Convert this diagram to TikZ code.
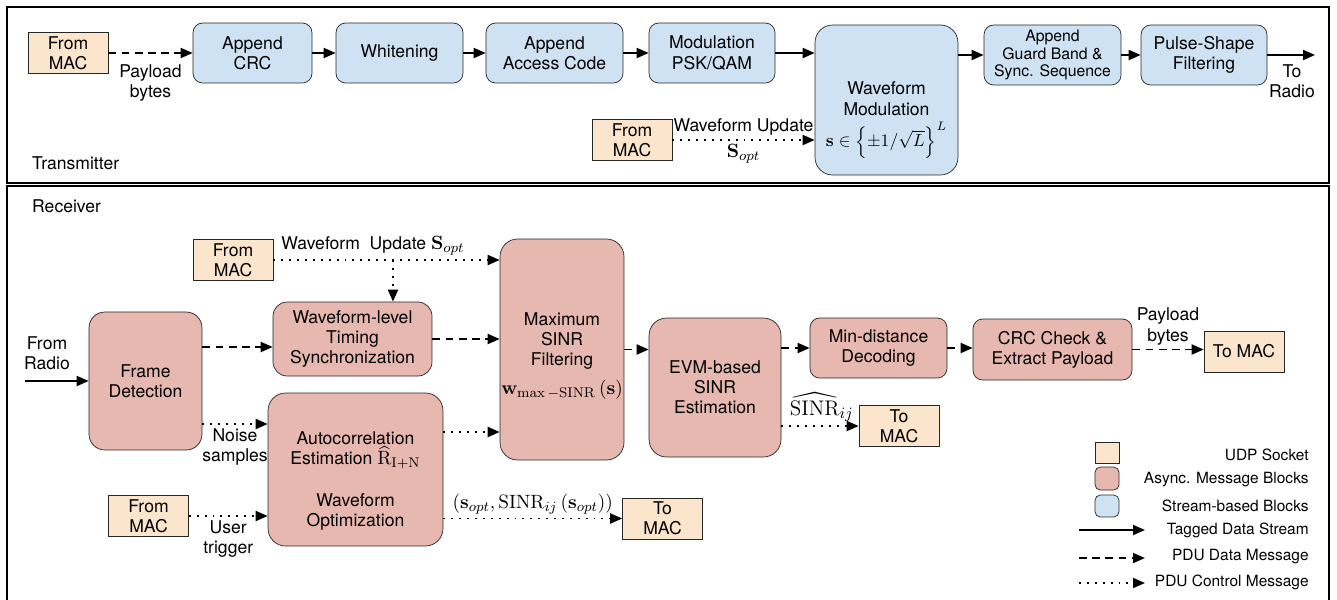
\documentclass[tikz,border=0pt]{standalone}
\usepackage[no-math]{fontspec}
\setmainfont{TeX Gyre Heros}
\usepackage{amsmath,amssymb}
\usepackage{tikz}
\usetikzlibrary{arrows.meta,positioning,calc}
\usepackage{xcolor}
\definecolor{udpfill}{HTML}{FCE5CD}
\definecolor{asyncfill}{HTML}{E6B8AF}
\definecolor{streamfill}{HTML}{CFE2F3}
\newcommand{\mth}[1]{{\fontsize{11}{11.5}\selectfont$#1$}}

\begin{document}
\begin{tikzpicture}[x=0.02cm,y=-0.02cm,
  font=\fontsize{10}{11.5}\selectfont,
  udp/.style={draw=black!85,fill=udpfill,minimum width=1.6cm,
    minimum height=0.82cm,inner sep=0pt,align=center},
  stream/.style={draw=black!85,fill=streamfill,rounded corners=5.5pt,
    minimum height=1.2cm,inner sep=0pt,align=center},
  async/.style={draw=black!85,fill=asyncfill,rounded corners=5.5pt,
    inner sep=0pt,align=center},
  lbl/.style={align=center,inner sep=2pt},
  legend/.style={anchor=east,inner sep=0pt,font=\fontsize{8.8}{10}\selectfont},
  arr/.style={-{Triangle[length=2.4mm,width=2mm]},line width=1.1pt},
  pdu/.style={arr,dash pattern=on 4.5pt off 3pt},
  ctrl/.style={arr,dash pattern=on 1.1pt off 3.4pt}
]
\useasboundingbox (0,0) rectangle (1337,599);
\draw[line width=1.3pt] (7,7) rectangle (1329,183);
\draw[line width=1.3pt] (7,186) rectangle (1329,660);

\node[anchor=west] (txlabel) at (26,163) {Transmitter};
\node[udp] (txmac) at (68,53) {From\\MAC};
\node[stream,minimum width=2.38cm] (crc) at (252.5,53) {Append\\CRC};
\node[stream,minimum width=2.54cm] (white) at (399.5,53) {Whitening};
\node[stream,minimum width=2.74cm] (access) at (554.5,53) {Append\\Access Code};
\node[stream,minimum width=2.52cm] (modul) at (712,53) {Modulation\\PSK/QAM};
\node[stream,minimum width=2.86cm,minimum height=3cm,rounded corners=10pt]
  (wavemod) at (886.5,100) {};
\node[lbl] (wavemodtxt) at (886.5,120) {Waveform\\Modulation\\[3pt]
  $\mathbf{s}\in\left\{\pm1/\sqrt{L}\right\}^{L}$};
\node[stream,minimum width=2.74cm,font=\fontsize{9}{10}\selectfont]
  (guard) at (1052.5,55) {Append\\Guard Band \&\\Sync. Sequence};
\node[stream,minimum width=2.52cm] (pulse) at (1204,55) {Pulse-Shape\\Filtering};
\coordinate (radio) at (1315,55);
\node[lbl] (radiotxt) at (1292,81) {To\\Radio};
\node[udp] (txmac2) at (632,140) {From\\MAC};

\draw[pdu] (txmac) -- (crc) node[lbl,midway,below=4pt] (txpay) {Payload\\bytes};
\draw[arr] (crc) -- (white);
\draw[arr] (white) -- (access);
\draw[arr] (access) -- (modul);
\draw[arr] (modul.east) -- (modul.east -| wavemod.west);
\draw[arr] (wavemod.east |- guard.west) -- (guard.west);
\draw[arr] (guard) -- (pulse);
\draw[arr] (pulse.east) -- (radio);
\draw[ctrl] (txmac2.east) -- (txmac2.east -| wavemod.west)
  node[lbl,midway,above] (txupd) {Waveform Update}
  node[lbl,midway,below] (txsopt) {\mth{\mathbf{S}_{opt}}};

\node[anchor=west] (rxlabel) at (26,206) {Receiver};
\node[udp] (rxmac) at (233,260) {From\\MAC};
\node[async,minimum width=3.18cm,minimum height=1.48cm,rounded corners=8pt]
  (timing) at (352.5,339) {Waveform-level\\Timing\\Synchronization};
\node[async,minimum width=2.26cm,minimum height=2.76cm,rounded corners=9pt]
  (frame) at (145.5,381) {Frame\\Detection};
\node[lbl] (radioin) at (47,353) {From\\Radio};
\coordinate (radiosrc) at (25,381);
\node[async,minimum width=2.48cm,minimum height=4.42cm,rounded corners=10pt]
  (maxsinr) at (562,349.5) {};
\node[lbl] (maxsinrtxt) at (562,356) {Maximum\\SINR\\Filtering\\[5pt]
  \mth{\mathbf{w}_{\max-\mathrm{SINR}}\left(\mathbf{s}\right)}};
\node[async,minimum width=2.64cm,minimum height=2.78cm,rounded corners=10pt]
  (evm) at (715,387.5) {EVM-based\\SINR\\Estimation};
\node[async,minimum width=2.74cm,minimum height=1.2cm]
  (mindist) at (878.5,348) {Min-distance\\Decoding};
\node[async,minimum width=3.18cm,minimum height=1.22cm]
  (crccheck) at (1052.5,349.5) {CRC Check \&\\Extract Payload};
\node[udp] (rxtomac) at (1244,351.5) {To MAC};
\node[udp] (sinrmac) at (899,426) {To\\MAC};
\node[async,minimum width=3.5cm,minimum height=3.06cm,rounded corners=10pt]
  (autocorr) at (355.5,469.5) {};
\node[lbl] (autotxt) at (355.5,481) {Autocorrelation\\
  Estimation \mth{\widehat{\mathrm{R}}_{\mathrm{I+N}}}\\[12pt]Waveform\\Optimization};
\node[udp] (trigmac) at (148.5,516) {From\\MAC};
\node[udp] (optmac) at (662.5,518.5) {To\\MAC};

\draw[arr] (radiosrc) -- (frame.west);
\draw[ctrl] (rxmac.east) -- (rxmac.east -| maxsinr.west)
  node[lbl,pos=0.44,above] (rxupd) {Waveform\ \ Update \mth{\mathbf{S}_{opt}}};
\draw[ctrl] ($(rxmac.east -| timing.north)+(40.5,0)$) -- ($(timing.north)+(40.5,0)$);
\draw[pdu] ($(frame.east)+(0,-34)$) coordinate (fdhi) -- (fdhi -| timing.west);
\draw[pdu] (timing.east) -- (timing.east -| maxsinr.west);
\draw[ctrl] ($(frame.east)+(0,43)$) coordinate (fdlo) -- (fdlo -| autocorr.west)
  node[lbl,midway,below] (noise) {Noise\\samples};
\draw[ctrl] ($(autocorr.east)+(0,-37.5)$) coordinate (achi) -- (achi -| maxsinr.west);
\draw[pdu] (maxsinr.east) -- (maxsinr.east -| evm.west);
\draw[pdu] (evm.east |- mindist.west) -- (mindist.west);
\draw[pdu] (mindist.east) -- (mindist.east -| crccheck.west);
\draw[pdu] (crccheck.east) -- (crccheck.east -| rxtomac.west)
  node[lbl,midway,above] (rxpay) {Payload\\bytes};
\draw[ctrl] (evm.east |- sinrmac.west) -- (sinrmac.west)
  node[lbl,midway,above,xshift=1pt] (sinrhat)
  {\fontsize{13}{13}\selectfont$\widehat{\mathrm{SINR}}_{ij}$};
\draw[ctrl] (trigmac.east) -- (trigmac.east -| autocorr.west)
  node[lbl,midway,below] (trig) {User\\trigger};
\draw[ctrl] (autocorr.east |- optmac.west) -- (optmac.west)
  node[lbl,midway,above] (optlbl)
  {\mth{\left(\mathbf{s}_{opt},\mathrm{SINR}_{ij}\left(\mathbf{s}_{opt}\right)\right)}};

\node[udp,minimum width=0.48cm,minimum height=0.42cm] (legudp) at (1107,452.5) {};
\node[async,minimum width=0.48cm,minimum height=0.46cm,rounded corners=3pt]
  (legasync) at (1107,478.5) {};
\node[stream,minimum width=0.48cm,minimum height=0.44cm,rounded corners=3pt]
  (legstream) at (1107,506) {};
\node[legend] (legudptxt) at (1309,455) {UDP Socket};
\node[legend] (legasynctxt) at (1309,480) {Async. Message Blocks};
\node[legend] (legstreamtxt) at (1309,506) {Stream-based Blocks};
\node[legend] (legtagtxt) at (1309,530) {Tagged Data Stream};
\node[legend] (legpdutxt) at (1309,557) {PDU Data Message};
\node[legend] (legctrltxt) at (1309,582) {PDU Control Message};
\coordinate (tagA) at (1079,530);
\coordinate (tagB) at (1145,530);
\coordinate (pduA) at (1079,558);
\coordinate (pduB) at (1145,558);
\coordinate (ctrlA) at (1079,583);
\coordinate (ctrlB) at (1145,583);
\draw[arr] (tagA) -- (tagB);
\draw[pdu] (pduA) -- (pduB);
\draw[ctrl] (ctrlA) -- (ctrlB);
\end{tikzpicture}
\end{document}
